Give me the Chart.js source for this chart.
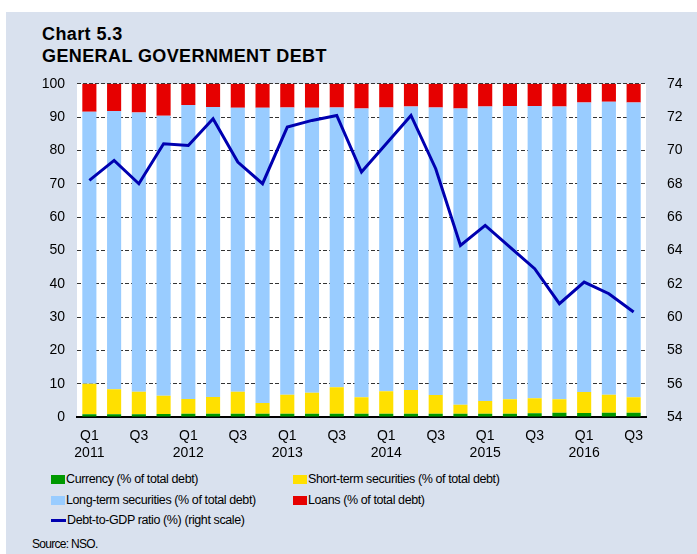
<!DOCTYPE html>
<html>
<head>
<meta charset="utf-8">
<script src="https://cdn.jsdelivr.net/npm/chart.js@4"></script>
<style>
  body { margin: 0; background: #fff; font-family: "Liberation Sans", Arial, sans-serif; }
  #panel { position: absolute; left: 6px; top: 12px; width: 691px; height: 542px; background: #D9E1EE; }
  #title { position: absolute; left: 42px; top: 23px; font-weight: bold; font-size: 18px; line-height: 22px; letter-spacing: 0.4px; color: #000; }
  #wrap { position: absolute; left: 0; top: 62px; width: 697px; height: 403px; }
  #legend { position: absolute; left: 0; top: 470px; width: 697px; font-size: 12.5px; letter-spacing: -0.4px; color: #000; }
  .item { position: absolute; display: flex; align-items: center; white-space: nowrap; }
  .sw { width: 14px; height: 9px; margin-right: 1px; }
  .ln { width: 15px; height: 3px; margin-right: 1px; }
  #source { position: absolute; left: 32px; top: 537px; font-size: 12px; letter-spacing: -0.7px; color: #000; }
</style>
</head>
<body>
<div id="panel"></div>
<div id="title">Chart 5.3<br>GENERAL GOVERNMENT DEBT</div>
<div id="wrap"><canvas id="debt"></canvas></div>
<div id="legend"></div>
<div id="source">Source: NSO.</div>
<script>
var quarters = ["Q1 2011","Q2 2011","Q3 2011","Q4 2011","Q1 2012","Q2 2012","Q3 2012","Q4 2012",
  "Q1 2013","Q2 2013","Q3 2013","Q4 2013","Q1 2014","Q2 2014","Q3 2014","Q4 2014",
  "Q1 2015","Q2 2015","Q3 2015","Q4 2015","Q1 2016","Q2 2016","Q3 2016"];
var tickLabels = [["Q1","2011"],"",["Q3"],"",["Q1","2012"],"",["Q3"],"",["Q1","2013"],"",["Q3"],"",
  ["Q1","2014"],"",["Q3"],"",["Q1","2015"],"",["Q3"],"",["Q1","2016"],"",["Q3"]];

var currency = [0.8,0.8,0.8,0.9,1.0,1.0,1.0,1.0,1.0,1.0,1.0,1.0,1.0,1.0,1.0,1.0,1.0,1.0,1.1,1.3,1.2,1.3,1.3];
var shortTerm = [9.2,7.5,6.8,5.5,4.4,5.0,6.6,3.2,5.7,6.3,7.9,4.9,6.7,7.1,5.6,2.7,3.8,4.3,4.5,4.0,6.3,5.4,4.6];
var longTerm = [81.6,83.5,83.8,84.0,88.2,87.0,85.2,88.6,86.2,85.5,84.0,86.7,85.2,85.1,86.3,88.9,88.4,88.0,87.7,87.9,86.9,87.9,88.5];
var loans = [8.4,8.2,8.6,9.6,6.4,7.0,7.2,7.2,7.1,7.2,7.1,7.4,7.1,6.8,7.1,7.4,6.8,6.7,6.7,6.8,5.6,5.4,5.6];
var debtToGdp = [68.2,69.4,68.0,70.4,70.3,71.9,69.3,68.0,71.4,71.8,72.1,68.7,70.4,72.1,68.9,64.3,65.5,64.2,62.9,60.8,62.1,61.4,60.3];

var font = { family: "'Liberation Sans', Arial, sans-serif", size: 14, lineHeight: 1.25 };

// white plot background
var plotBg = {
  id: "plotBg",
  beforeDraw: function(chart) {
    var a = chart.chartArea, ctx = chart.ctx;
    ctx.save();
    ctx.fillStyle = "#fff";
    ctx.fillRect(a.left, a.top, a.right - a.left, a.bottom - a.top);
    ctx.restore();
  }
};

function bar(label, data, color) {
  return { type: "bar", label: label, data: data, backgroundColor: color, yAxisID: "y",
    order: 1, barPercentage: 0.57, categoryPercentage: 1, borderWidth: 0 };
}

var chart = new Chart("debt", {
  data: {
    labels: quarters,
    datasets: [
      bar("Currency (% of total debt)", currency, "#009900"),
      bar("Short-term securities (% of total debt)", shortTerm, "#FFE000"),
      bar("Long-term securities (% of total debt)", longTerm, "#99CCFF"),
      bar("Loans (% of total debt)", loans, "#E60000"),
      { type: "line", label: "Debt-to-GDP ratio (%) (right scale)", data: debtToGdp, yAxisID: "y2",
        borderColor: "#0000B0", borderWidth: 3, pointRadius: 0, tension: 0, order: 0 }
    ]
  },
  options: {
    responsive: true,
    maintainAspectRatio: false,
    animation: false,
    layout: { padding: { top: 4, left: 0, right: 0, bottom: 0 } },
    plugins: { legend: { display: false }, tooltip: { enabled: false } },
    scales: {
      x: {
        stacked: true,
        grid: { display: false },
        border: { display: true, color: "#000", width: 2 },
        ticks: { autoSkip: false, maxRotation: 0, color: "#000", font: font, padding: 2,
          callback: function(v, i) { return tickLabels[i]; } },
        afterFit: function(s) { s.height = 48; }
      },
      y: {
        stacked: true, min: 0, max: 100,
        position: "left",
        border: { display: false, dash: [4, 2] },
        grid: { color: "#333", drawTicks: false, lineWidth: 1 },
        ticks: { stepSize: 10, color: "#000", font: font, padding: 12 },
        afterFit: function(s) { s.width = 77; }
      },
      y2: {
        min: 54, max: 74,
        position: "right",
        border: { display: false },
        grid: { display: false },
        ticks: { stepSize: 2, color: "#000", font: font, padding: 13 },
        afterFit: function(s) { s.width = 51; }
      }
    }
  },
  plugins: [plotBg]
});

// legend built from the datasets, two columns
var legend = document.getElementById("legend");
var spots = [[51, 10], [293, 10], [51, 31], [293, 31], [51, 51]];
chart.data.datasets.forEach(function(ds, i) {
  var item = document.createElement("div");
  item.className = "item";
  item.style.left = spots[i][0] + "px";
  item.style.top = (spots[i][1] - 8) + "px";
  var sw = document.createElement("span");
  sw.className = ds.type === "line" ? "ln" : "sw";
  sw.style.background = ds.type === "line" ? ds.borderColor : ds.backgroundColor;
  item.appendChild(sw);
  item.appendChild(document.createTextNode(ds.label));
  legend.appendChild(item);
});
</script>
</body>
</html>
